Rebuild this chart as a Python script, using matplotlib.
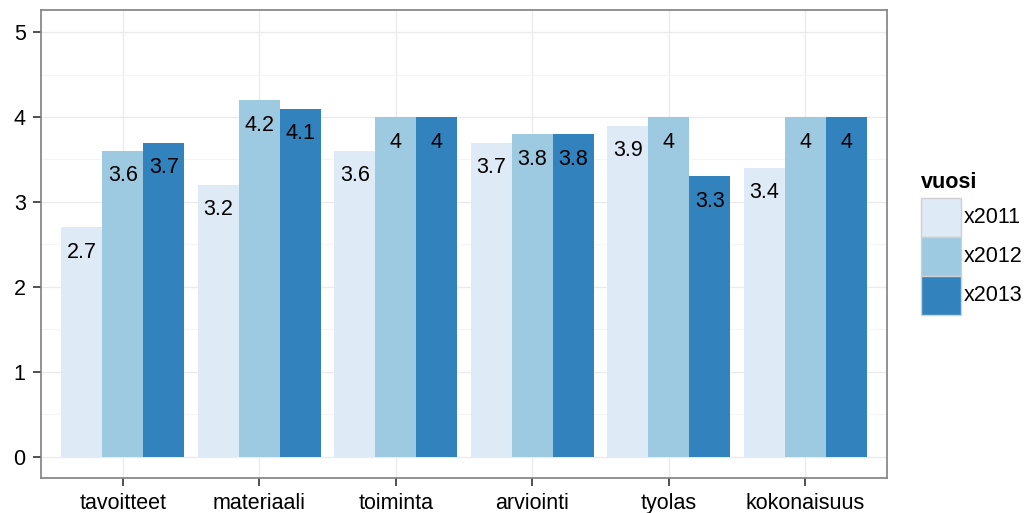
import numpy as np
import matplotlib
matplotlib.use('Agg')
import matplotlib.pyplot as plt
from matplotlib.patches import Rectangle

plt.rcParams['font.family'] = ['Liberation Sans', 'DejaVu Sans']

# data
categories = ['tavoitteet', 'materiaali', 'toiminta', 'arviointi', 'tyolas', 'kokonaisuus']
series = ['x2011', 'x2012', 'x2013']
x2011 = [2.7, 3.2, 3.6, 3.7, 3.9, 3.4]
x2012 = [3.6, 4.2, 4.0, 3.8, 4.0, 4.0]
x2013 = [3.7, 4.1, 4.0, 3.8, 3.3, 4.0]
colors = ['#DEEBF7', '#9ECAE1', '#3182BD']

W, H = 1031, 513
fs = 15.5
fig = plt.figure(figsize=(W / 100, H / 100), dpi=100)
ax = fig.add_axes([41 / W, 35 / H, 846 / W, 468 / H])

x = np.arange(len(categories))
w = 0.3
for i, vals in enumerate([x2011, x2012, x2013]):
    pos = x + (i - 1) * w
    ax.bar(pos, vals, width=w, color=colors[i], zorder=2)
    for p, v in zip(pos, vals):
        ax.annotate(f'{v:g}', (p, v), xytext=(0, -18), textcoords='offset points',
                    ha='center', va='center', fontsize=fs, color='black', zorder=3)

ax.set_xlim(-0.6, len(categories) - 0.4)
ax.set_ylim(-0.25, 5.26)
ax.set_xticks(x)
ax.set_xticklabels(categories)
ax.set_yticks(range(6))
ax.set_yticks(np.arange(0.5, 5, 1), minor=True)
ax.tick_params(axis='both', which='major', labelsize=fs, length=6, width=1.2,
               color='#333333', labelcolor='black', direction='out', pad=5)
ax.tick_params(axis='y', which='minor', length=0)
ax.grid(True, which='major', color='#EBEBEB', linewidth=1.0, zorder=0)
ax.grid(True, which='minor', axis='y', color='#F5F5F5', linewidth=0.8, zorder=0)
ax.set_axisbelow(True)
for s in ax.spines.values():
    s.set_color('#7F7F7F')
    s.set_linewidth(1.2)

# legend drawn by hand, ggplot style: contiguous keys with a grey border
kx, ky0, kw, kh = 921, 198, 40, 39
fig.text(kx / W, 1 - 182 / H, 'vuosi', fontsize=fs, fontweight='bold',
         ha='left', va='center')
for i, (c, name) in enumerate(zip(colors, series)):
    top = ky0 + i * kh
    fig.patches.append(Rectangle((kx / W, 1 - (top + kh) / H), kw / W, kh / H,
                                 transform=fig.transFigure, facecolor=c,
                                 edgecolor='#D0D0D0', linewidth=1))
    fig.text((kx + kw + 3) / W, 1 - (top + kh / 2) / H, name, fontsize=fs,
             ha='left', va='center')

fig.savefig('out.png', dpi=100)
